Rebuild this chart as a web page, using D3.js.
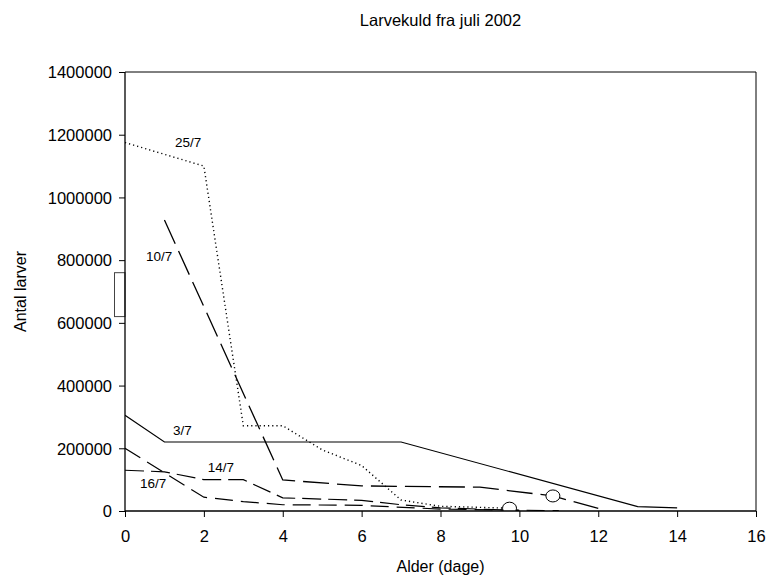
<!DOCTYPE html>
<html>
<head>
<meta charset="utf-8">
<script src="https://cdn.jsdelivr.net/npm/d3@7"></script>
<style>
    body { margin: 0; background: #fff; }
    svg text { font-family: "Liberation Sans", Arial, sans-serif; fill: #000; }
</style>
</head>
<body>
<svg id="chart"></svg>
<script>
// values
const xTicks = [0, 2, 4, 6, 8, 10, 12, 14, 16];
const yTicks = [0, 200000, 400000, 600000, 800000, 1000000, 1200000, 1400000];

const s3_7 = [[0, 305000], [1, 220000], [7, 220000], [13, 14000], [14, 10000]];
const s10_7 = [[1, 928000], [4, 99000], [6, 80000], [9, 76000], [10.85, 48000], [12, 8000]];
const s14_7 = [[0, 130000], [1, 125000], [2, 100000], [3, 100000], [4, 42000], [6, 34000], [7, 20000], [8, 10000], [10, 2000]];
const s16_7 = [[0, 200000], [2, 44000], [3, 30000], [4, 20000], [6, 18000], [8, 6000], [11, 1000]];
const s25_7 = [[0, 1175000], [2, 1100000], [3, 272000], [4, 272000], [5, 195000], [6, 145000], [7, 35000], [8, 15000], [9.75, 9000]];

// open markers sitting on two of the curves
const markers = [[10.85, 48000], [9.75, 9000]];

const series = [
    { name: '3/7', data: s3_7, dash: null, width: 1.2, label: [1.22, 242000] },
    { name: '10/7', data: s10_7, dash: '26,8', width: 1.3, label: [0.53, 797000] },
    { name: '14/7', data: s14_7, dash: '19,7', width: 1.2, label: [2.1, 125000] },
    { name: '16/7', data: s16_7, dash: '18,8', width: 1.2, label: [0.38, 73000] },
    { name: '25/7', data: s25_7, dash: '1.2,3', width: 1.4, label: [1.27, 1161000] },
];

const width = 768, height = 585;
const m = { left: 125, right: 12, top: 72, bottom: 74 };

const svg = d3.select('#chart')
    .attr('width', width)
    .attr('height', height);

const x = d3.scaleLinear().domain([0, 16]).range([m.left, width - m.right]);
const y = d3.scaleLinear().domain([0, 1400000]).range([height - m.bottom, m.top]);

svg.append('defs').append('clipPath')
    .attr('id', 'plotclip')
    .append('rect')
    .attr('x', x(0)).attr('y', y(1400000))
    .attr('width', x(16) - x(0)).attr('height', y(0) - y(1400000));

// title
svg.append('text')
    .attr('x', (x(0) + x(16)) / 2)
    .attr('y', 26)
    .attr('text-anchor', 'middle')
    .attr('font-size', '16.5px')
    .text('Larvekuld fra juli 2002');

// frame (top + right)
svg.append('path')
    .attr('d', `M${x(0)},${y(1400000)} H${x(16)} V${y(0)}`)
    .style('fill', 'none')
    .style('stroke', '#000')
    .style('stroke-width', 1);

// little box against the y axis
svg.append('rect')
    .attr('x', x(0) - 10.5)
    .attr('y', y(760000))
    .attr('width', 10.5)
    .attr('height', y(620000) - y(760000))
    .style('fill', 'none')
    .style('stroke', '#444')
    .style('stroke-width', 1);

const line = d3.line()
    .x(d => x(d[0]))
    .y(d => y(d[1]));

const lines = svg.append('g').attr('clip-path', 'url(#plotclip)');

lines.selectAll('.series')
    .data(series)
    .enter().append('path')
    .attr('class', 'series')
    .attr('d', d => line(d.data))
    .style('fill', 'none')
    .style('stroke', '#000')
    .style('stroke-width', d => d.width)
    .style('stroke-dasharray', d => d.dash);

lines.selectAll('.marker')
    .data(markers)
    .enter().append('ellipse')
    .attr('class', 'marker')
    .attr('cx', d => x(d[0]))
    .attr('cy', d => y(d[1]))
    .attr('rx', 7)
    .attr('ry', 6)
    .style('fill', '#fff')
    .style('stroke', '#000')
    .style('stroke-width', 1);

svg.selectAll('.slabel')
    .data(series)
    .enter().append('text')
    .attr('class', 'slabel')
    .attr('x', d => x(d.label[0]))
    .attr('y', d => y(d.label[1]))
    .attr('font-size', '13.5px')
    .text(d => d.name);

// axes
const xAxis = svg.append('g')
    .attr('transform', `translate(0,${y(0)})`)
    .call(d3.axisBottom(x).tickValues(xTicks).tickSize(6).tickPadding(10).tickFormat(d3.format('d')));

const yAxis = svg.append('g')
    .attr('transform', `translate(${x(0)},0)`)
    .call(d3.axisLeft(y).tickValues(yTicks).tickSize(6).tickPadding(7).tickFormat(d3.format('d')));

[xAxis, yAxis].forEach(a => {
    a.select('.domain').attr('d', null);
    a.selectAll('text').attr('font-size', '16.5px').style('font-family', '"Liberation Sans", Arial, sans-serif');
    a.selectAll('line').style('stroke', '#000').style('stroke-width', 1);
});
xAxis.selectAll('text').attr('dy', '0.9em');
yAxis.selectAll('text').attr('dy', '0.35em');

svg.append('line')
    .attr('x1', x(0)).attr('x2', x(16))
    .attr('y1', y(0)).attr('y2', y(0))
    .style('stroke', '#000').style('stroke-width', 1.3);
svg.append('line')
    .attr('x1', x(0)).attr('x2', x(0))
    .attr('y1', y(0)).attr('y2', y(1400000))
    .style('stroke', '#000').style('stroke-width', 1.3);

// axis titles
svg.append('text')
    .attr('x', (x(0) + x(16)) / 2)
    .attr('y', 572)
    .attr('text-anchor', 'middle')
    .attr('font-size', '16px')
    .text('Alder (dage)');

svg.append('text')
    .attr('transform', `translate(26,${(y(0) + y(1400000)) / 2}) rotate(-90)`)
    .attr('text-anchor', 'middle')
    .attr('font-size', '16px')
    .text('Antal larver');
</script>
</body>
</html>
